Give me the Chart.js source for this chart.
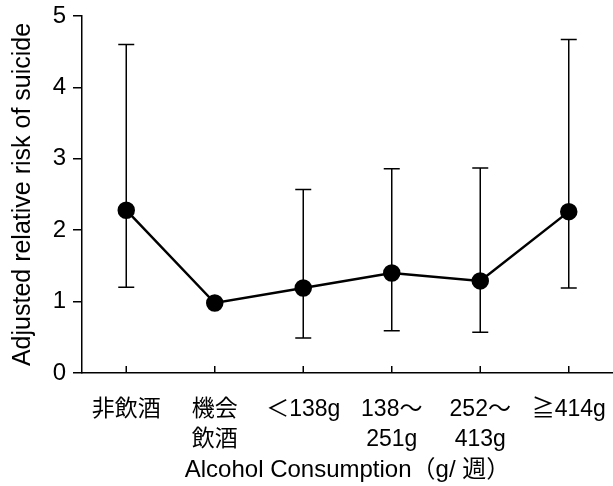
<!DOCTYPE html>
<html>
<head>
<meta charset="utf-8">
<script src="https://cdn.jsdelivr.net/npm/chart.js@4"></script>
<style>
html,body{margin:0;padding:0;background:#fff;overflow:hidden;}
#wrap{width:613px;height:486px;position:relative;}
canvas{display:block;}
</style>
</head>
<body>
<div id="wrap"><canvas id="c"></canvas></div>
<script>
const categories = [['非飲酒'], ['機会', '飲酒'], ['＜138g'], ['138～', '251g'], ['252～', '413g'], ['≧414g']];
const riskValues = [2.28, 0.98, 1.19, 1.40, 1.29, 2.26];
const ciLower = [1.20, null, 0.49, 0.59, 0.57, 1.19];
const ciUpper = [4.60, null, 2.57, 2.86, 2.87, 4.67];
const yTickValues = [0, 1, 2, 3, 4, 5];
const xTitle = 'Alcohol Consumption（g/ 週）';
const yTitle = 'Adjusted relative risk of suicide';

const FONT = "'Liberation Sans', 'Noto Sans CJK JP', Arial, sans-serif";
const INK = '#000';

const errorBars = {
  id: 'errorBars',
  beforeDatasetsDraw(chart) {
    const ctx = chart.ctx;
    const xs = chart.scales.x, ys = chart.scales.y;
    ctx.save();
    ctx.strokeStyle = INK;
    ctx.lineWidth = 1.5;
    for (let i = 0; i < categories.length; i++) {
      if (ciLower[i] == null || ciUpper[i] == null) continue;
      const x = xs.getPixelForValue(i);
      const y1 = ys.getPixelForValue(ciLower[i]);
      const y2 = ys.getPixelForValue(ciUpper[i]);
      ctx.beginPath();
      ctx.moveTo(x, y1); ctx.lineTo(x, y2);
      ctx.moveTo(x - 8, y1); ctx.lineTo(x + 8, y1);
      ctx.moveTo(x - 8, y2); ctx.lineTo(x + 8, y2);
      ctx.stroke();
    }
    // inward x ticks
    const yb = chart.chartArea.bottom;
    for (let i = 0; i < categories.length; i++) {
      const x = xs.getPixelForValue(i);
      ctx.beginPath();
      ctx.moveTo(x, yb); ctx.lineTo(x, yb - 7);
      ctx.stroke();
    }
    ctx.restore();
  }
};

new Chart(document.getElementById('c'), {
  type: 'line',
  data: {
    labels: categories,
    datasets: [{
      data: riskValues,
      borderColor: INK,
      borderWidth: 2.5,
      backgroundColor: INK,
      pointRadius: 7.5,
      pointHoverRadius: 7.5,
      pointBackgroundColor: INK,
      pointBorderColor: INK,
      tension: 0,
      clip: false
    }]
  },
  options: {
    responsive: true,
    maintainAspectRatio: false,
    animation: false,
    layout: { autoPadding: false, padding: { top: 16, right: 0, left: 0, bottom: 0 } },
    plugins: { legend: { display: false }, tooltip: { enabled: false } },
    scales: {
      x: {
        type: 'category',
        offset: true,
        grid: { display: false, drawTicks: false },
        border: { display: true, color: INK, width: 1.5 },
        ticks: {
          color: INK,
          padding: 22,
          maxRotation: 0,
          autoSkip: false,
          font: { family: FONT, size: 23, lineHeight: 1.3 }
        },
        title: {
          display: true,
          text: xTitle,
          color: INK,
          padding: { top: 0, bottom: 1 },
          font: { family: FONT, size: 24, lineHeight: 1.2 }
        },
        afterFit(scale) {
          scale.height = 113;
          scale.paddingLeft = 0;
          scale.paddingRight = 0;
        }
      },
      y: {
        min: 0,
        max: 5,
        afterBuildTicks(scale) { scale.ticks = yTickValues.map(v => ({ value: v })); },
        grid: { drawOnChartArea: false, drawTicks: true, tickLength: 9, color: INK, lineWidth: 1.5 },
        border: { display: true, color: INK, width: 1.5 },
        ticks: {
          color: INK,
          padding: 7,
          font: { family: FONT, size: 24 }
        },
        title: {
          display: true,
          text: yTitle,
          color: INK,
          padding: { top: 8, bottom: 0 },
          font: { family: FONT, size: 25, lineHeight: 1.2 }
        },
        afterFit(scale) {
          scale.width = 82;
          scale.paddingTop = 0;
          scale.paddingBottom = 0;
        }
      }
    }
  },
  plugins: [errorBars]
});
</script>
</body>
</html>
